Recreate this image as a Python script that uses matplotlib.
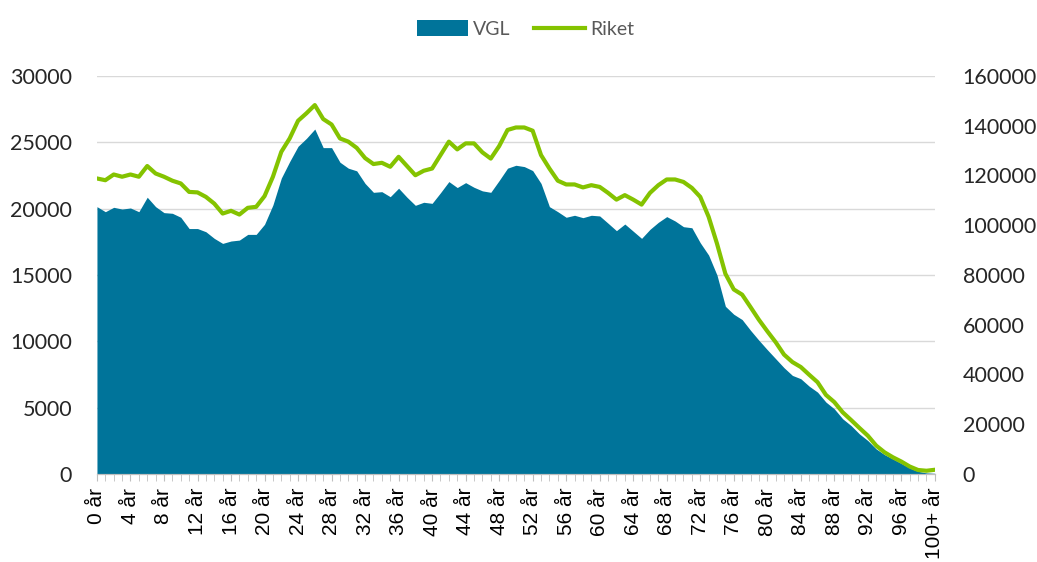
import numpy as np
import matplotlib
matplotlib.use("Agg")
from matplotlib import pyplot as plt

# age groups 0..99 plus 100+
ages = [f"{i} år" for i in range(100)] + ["100+ år"]

vgl = [20150, 19770, 20100, 19970, 20050, 19770, 20860, 20150, 19700, 19650,
       19350, 18500, 18500, 18260, 17760, 17380, 17560, 17630, 18060, 18060,
       18820, 20280, 22300, 23550, 24700, 25300, 26000, 24600, 24600, 23500,
       23050, 22850, 21900, 21230, 21280, 20900, 21540, 20860, 20250, 20480,
       20400, 21200, 22040, 21590, 21960, 21610, 21340, 21230, 22120, 23050,
       23270, 23170, 22870, 21900, 20150, 19770, 19350, 19500, 19320, 19500,
       19450, 18900, 18340, 18840, 18300, 17760, 18440, 18970, 19400, 19070,
       18640, 18560, 17430, 16500, 14990, 12640, 12040, 11640, 10830, 10080,
       9370, 8690, 8010, 7430, 7180, 6620, 6170, 5420, 4910, 4160,
       3650, 3020, 2520, 1890, 1460, 1130, 800, 450, 200, 80,
       50]

riket = [118800, 118100, 120400, 119500, 120400, 119500, 123800, 120800, 119500, 117900,
         116800, 113400, 113200, 111400, 108700, 104700, 105800, 104300, 107000, 107400,
         111700, 119500, 129500, 134900, 142000, 145000, 148300, 142700, 140500, 134900,
         133600, 131100, 127000, 124600, 125100, 123500, 127500, 123800, 120100, 121900,
         122800, 128200, 133600, 130500, 132900, 132900, 129300, 126800, 131800, 138300,
         139300, 139300, 138000, 128200, 122800, 117900, 116400, 116400, 115200, 116100,
         115400, 113000, 110300, 112100, 110300, 108300, 113000, 116100, 118400, 118400,
         117400, 115000, 111400, 103400, 92600, 80500, 74200, 72100, 67100, 62000,
         57400, 53000, 48000, 45000, 43000, 39900, 36900, 31800, 28900, 24800,
         21700, 18500, 15400, 11400, 8700, 6700, 5000, 3000, 1600, 1300,
         1700]

blue = "#00749A"
green = "#84C300"
grey = "#595959"

plt.rcParams['font.family'] = ['Lato', 'DejaVu Sans']

fig = plt.figure(figsize=(10.37, 5.62), dpi=100)
ax = fig.add_axes([0.0935, 0.1566, 0.808, 0.7082])
ax2 = ax.twinx()

x = np.arange(len(ages))
ax.fill_between(x, vgl, 0, color=blue, linewidth=0, label="VGL", zorder=2)
ax2.plot(x, riket, color=green, linewidth=3, label="Riket", zorder=3)

ax.set_xlim(0, len(ages) - 1)
ax.set_ylim(0, 30000)
ax2.set_ylim(0, 160000)
ax.set_yticks(np.arange(0, 30001, 5000))
ax2.set_yticks(np.arange(0, 160001, 20000))

ax.grid(axis="y", color="#D9D9D9", linewidth=1, zorder=0)
ax.set_axisbelow(True)

ax.set_xticks(x[::4])
ax.set_xticklabels([ages[i] for i in x[::4]], rotation=90,
                   family=['Liberation Sans', 'DejaVu Sans'])
ax.set_xticks(x, minor=True)
ax.tick_params(axis="x", which="both", length=5, color="#BFBFBF", labelsize=15,
               labelcolor="black", pad=5)
ax.tick_params(axis="y", length=0, labelsize=15.5, labelcolor="#262626", pad=18)
ax2.tick_params(axis="y", length=0, labelsize=15.5, labelcolor="#262626", pad=20)

for a in (ax, ax2):
    for s in ("top", "left", "right"):
        a.spines[s].set_visible(False)
    a.spines["bottom"].set_color("#BFBFBF")

h1, l1 = ax.get_legend_handles_labels()
h2, l2 = ax2.get_legend_handles_labels()
fig.legend(h1 + h2, l1 + l2, loc="upper center", bbox_to_anchor=(0.507, 0.995), ncol=2,
           frameon=False, fontsize=14, labelcolor=grey, handlelength=2.6,
           handleheight=0.9, columnspacing=1.2, handletextpad=0.3)

fig.savefig("out.png", dpi=100)
